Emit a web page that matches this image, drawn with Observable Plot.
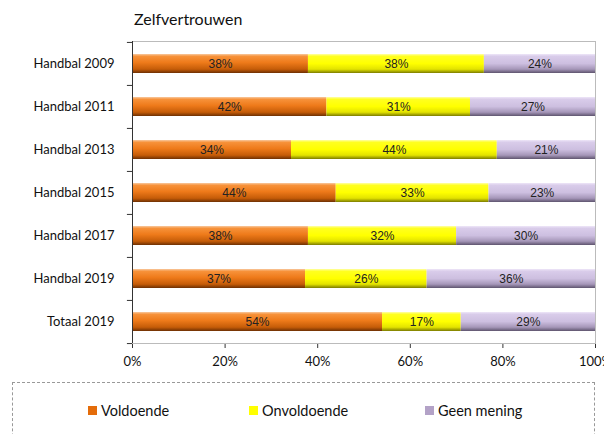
<!DOCTYPE html>
<html><head><meta charset="utf-8">
<script src="https://cdn.jsdelivr.net/npm/d3@7"></script>
<script src="https://cdn.jsdelivr.net/npm/@observablehq/plot@0.6"></script>
<style>
body{margin:0;background:#fff;font-family:Lato,"Open Sans",sans-serif;}
#wrap{position:relative;width:604px;height:434px;overflow:hidden;}
#title{position:absolute;left:134px;top:9px;font-size:16px;color:#111;}
#chart{position:absolute;left:0;top:0;}
#legend{position:absolute;left:12px;top:382px;width:583px;height:70px;border:1px dashed #999;box-sizing:border-box;}
.item{position:absolute;top:19px;font-size:14.5px;color:#111;display:flex;align-items:center;}
.sw{width:9px;height:9px;margin-right:4px;display:inline-block;}
</style></head>
<body>
<div id="wrap">
<div id="chart"></div>
<div id="title">Zelfvertrouwen</div>
<div id="legend"></div>
</div>
<script>
const categories = ["Handbal 2009","Handbal 2011","Handbal 2013","Handbal 2015","Handbal 2017","Handbal 2019","Totaal 2019"];
const series = ["Voldoende","Onvoldoende","Geen mening"];
const voldoende   = [38,42,34,44,38,37,54];
const onvoldoende = [38,31,44,33,32,26,17];
const geenMening  = [24,27,21,23,30,36,29];
const xTicks = [0,0.2,0.4,0.6,0.8,1];
const swatchColors = ["#E46C0A","#FFFF00","#B3A2C7"];
const fills = ["url(#gO)","url(#gY)","url(#gL)"];

const values = [voldoende, onvoldoende, geenMening];
const data = [];
categories.forEach((c,i)=>series.forEach((s,j)=>data.push({cat:c, serie:s, v:values[j][i]})));

const stack = {x:"v", y:"cat", z:"serie", order:series, offset:"normalize"};
const step = (343-41)/7;

const plot = Plot.plot({
  width:604, height:375,
  marginTop:41, marginBottom:32, marginLeft:132, marginRight:9,
  style:{fontFamily:"Lato, 'Open Sans', sans-serif", fontSize:"13px", color:"#111", background:"transparent"},
  x:{domain:[0,1], ticks:xTicks, tickFormat:d=>Math.round(d*100)+"%", tickSize:5, tickPadding:8, line:true, label:null},
  y:{domain:categories, paddingInner:0.56, paddingOuter:0.28, tickSize:0, tickPadding:18, label:null},
  color:{domain:series, range:fills},
  marks:[
    Plot.frame({stroke:"#bbb"}),
    Plot.barX(data, Plot.stackX({...stack, fill:"serie"})),
    Plot.text(data, Plot.stackX({...stack, text:d=>d.v+"%", fill:"#222", fontSize:12, fontFamily:"'Liberation Sans Narrow','Liberation Sans',sans-serif"})),
    Plot.ruleX([0], {stroke:"#333"}),
    Plot.ruleY(categories, {y:d=>d, x1:-0.011, x2:0, dy:-step/2, stroke:"#333"}),
    Plot.ruleY([categories[categories.length-1]], {y:d=>d, x1:-0.011, x2:0, dy:step/2, stroke:"#333"})
  ]
});
const svg = d3.select(plot);
const defs = svg.insert("defs",":first-child");
function grad(id, stops){
  const g = defs.append("linearGradient").attr("id",id).attr("x1",0).attr("y1",0).attr("x2",0).attr("y2",1);
  stops.forEach(([o,c])=>g.append("stop").attr("offset",o).attr("stop-color",c));
}
grad("gO",[[0,"#F8C9A0"],[0.12,"#F7923A"],[0.45,"#EE7A1A"],[0.8,"#C55C08"],[1,"#6E3003"]]);
grad("gY",[[0,"#FFFFA8"],[0.12,"#FFFF20"],[0.5,"#FFFF00"],[0.8,"#E3E300"],[1,"#7C7C00"]]);
grad("gL",[[0,"#EEE6F8"],[0.12,"#D9CCEA"],[0.5,"#CDBFE0"],[0.8,"#A596B8"],[1,"#5E546E"]]);
svg.selectAll("[aria-label='x-axis tick'], [aria-label='x-axis line']").attr("stroke","#333");
document.getElementById("chart").appendChild(plot);

const legend = document.getElementById("legend");
const pos = [75, 236, 412];
series.forEach((s,i)=>{
  const it = document.createElement("div");
  it.className="item"; it.style.left=pos[i]+"px";
  it.innerHTML = `<span class="sw" style="background:${swatchColors[i]}"></span>${s}`;
  legend.appendChild(it);
});
</script>
</body></html>
